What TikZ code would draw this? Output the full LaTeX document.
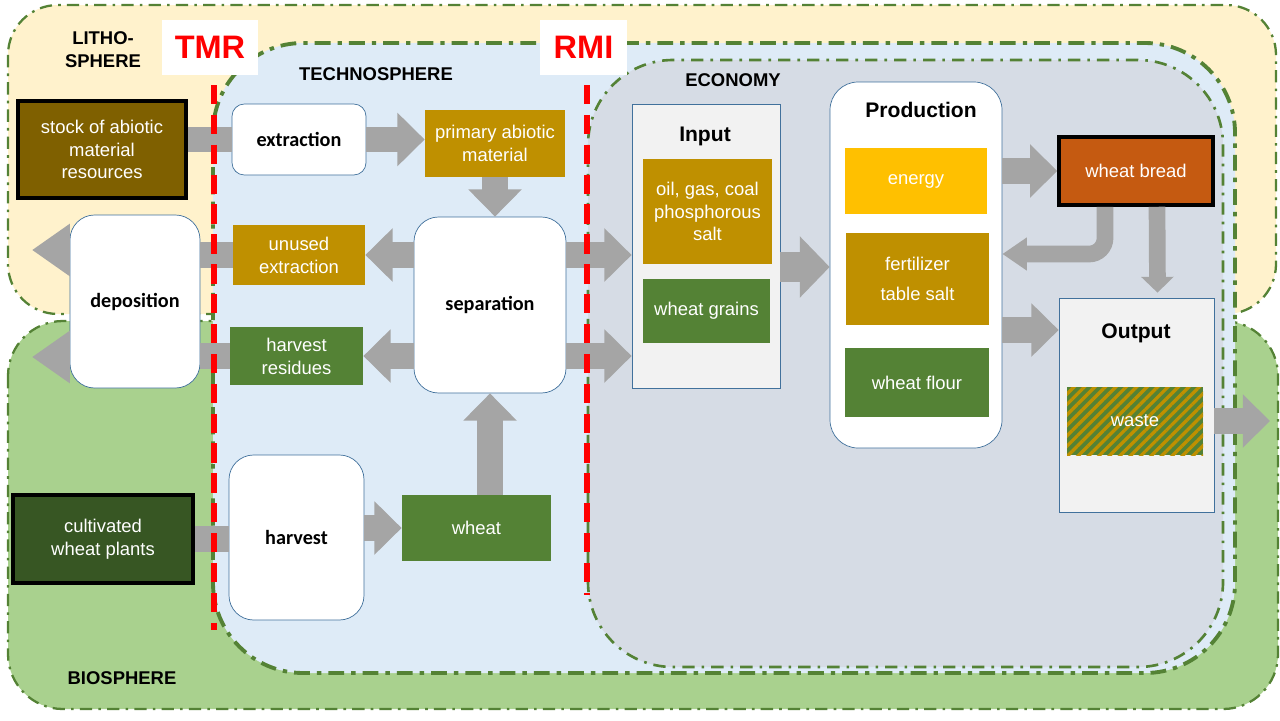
\documentclass[tikz,border=0pt]{standalone}
\usepackage{fontspec}
\setmainfont{Liberation Sans}
\newfontfamily\procfont{Carlito}
\usetikzlibrary{arrows.meta,calc,patterns.meta,positioning}

\definecolor{lithofill}{HTML}{FFF2CC}
\definecolor{biofill}{HTML}{A9D18E}
\definecolor{technofill}{HTML}{DEEBF7}
\definecolor{econfill}{HTML}{D6DCE5}
\definecolor{zonegreen}{HTML}{548235}
\definecolor{arrowgray}{HTML}{A5A5A5}
\definecolor{edgeblue}{HTML}{41719C}
\definecolor{panelgray}{HTML}{F2F2F2}
\definecolor{matgold}{HTML}{BF9000}
\definecolor{matgreen}{HTML}{548235}
\definecolor{matdark}{HTML}{375623}
\definecolor{matbrown}{HTML}{7F6000}
\definecolor{matbread}{HTML}{C55A11}
\definecolor{matenergy}{HTML}{FFC000}

\begin{document}
\begin{tikzpicture}[x=0.02cm, y=-0.02cm,
		sz/.style 2 args={minimum width=#1*0.02cm, minimum height=#2*0.02cm},
		matbox/.style={fill=#1, text=white, align=center, inner sep=1pt,
			font=\fontsize{10.5}{13}\selectfont},
		srcbox/.style={matbox=#1, draw=black, line width=2pt},
		procbox/.style={draw=edgeblue, fill=white, rounded corners=#1, align=center,
			font=\procfont\bfseries\fontsize{11.5}{14}\selectfont},
		panel/.style={draw=edgeblue, fill=panelgray},
		head/.style={font=\bfseries\fontsize{12}{14}\selectfont},
		sphere/.style={font=\bfseries\fontsize{10.5}{13}\selectfont, align=center},
		flag/.style={fill=white, text=red, inner sep=0pt, font=\bfseries\fontsize{18.5}{20}\selectfont},
		region/.style={draw=zonegreen, fill=#1, line width=1.3pt,
			dash pattern=on 7pt off 3.5pt on 1.5pt off 3.5pt},
		cutline/.style={red, line width=2.9pt, dash pattern=on 11pt off 6pt},
		bar/.style={draw=arrowgray, line width=14.5pt},
		flow/.style={draw=arrowgray, line width=14.5pt, -{Triangle[width=29.5pt,length=15.5pt]}},
		bigflow/.style={draw=arrowgray, line width=17pt, -{Triangle[width=34pt,length=17pt]}},
		outflow/.style={draw=arrowgray, line width=14.5pt, -{Triangle[width=28.5pt,length=21.6pt]}},
		smallflow/.style={draw=arrowgray, line width=9.5pt, -{Triangle[width=18pt,length=#1]}},
		smallflow/.default=9pt]

	\useasboundingbox (0,0) rectangle (1280,720);

	% spheres
	\draw[region=lithofill, rounded corners=1cm] (8,5) rectangle (1276,314);
	\draw[region=biofill, rounded corners=1.1cm] (8,321) rectangle (1278,709);
	\draw[draw=zonegreen, fill=technofill, line width=2.2pt, rounded corners=1.8cm,
		dash pattern=on 9pt off 4pt on 2.5pt off 4pt] (213,43) rectangle (1235,673);
	\draw[draw=zonegreen, fill=econfill, line width=1.5pt, rounded corners=1.7cm,
		dash pattern=on 7pt off 4pt on 1.5pt off 4pt] (588,60) rectangle (1223,667);

	\node[sphere] (litho) at (103,50) {LITHO-\\SPHERE};
	\node[sphere] (techno) at (376,74) {TECHNOSPHERE};
	\node[sphere] (econ) at (733,80) {ECONOMY};
	\node[sphere] (bio) at (122,678) {BIOSPHERE};

	% lithosphere side
	\node[srcbox=matbrown, sz={168}{97}] (stock) at (102,149.5) {stock of abiotic\\material\\resources};
	\node[procbox=7pt, sz={134}{71}] (extr) at (299,139.5) {extraction};
	\node[matbox=matgold, sz={140}{67}] (prim) at (495,143.5) {primary abiotic\\material};
	\node[procbox=14pt, sz={152}{176}] (sep) at (490,305) {separation};
	\node[matbox=matgold, sz={132}{60}] (unused) at (299,255) {unused\\extraction};
	\node[matbox=matgreen, sz={133}{58}] (resid) at (296.5,356) {harvest\\residues};
	\node[procbox=14pt, sz={130}{173}] (depo) at (135,301.5) {deposition};

	% biosphere side
	\node[srcbox=matdark, sz={180}{88}] (cult) at (103,539) {cultivated\\wheat plants};
	\node[procbox=14pt, sz={135}{165}] (harv) at (296.5,537.5) {harvest};
	\node[matbox=matgreen, sz={149}{66}] (wheat) at (476.5,528) {wheat};

	% economy
	\node[panel, sz={148}{284}] (input) at (706,246) {};
	\node[head] (inlbl) at (705,136) {Input};
	\node[matbox=matgold, sz={129}{105}] (oil) at (707.5,211.5) {oil, gas, coal\\phosphorous\\salt};
	\node[matbox=matgreen, sz={127}{64}] (grains) at (706.5,311) {wheat grains};

	\node[procbox=16pt, sz={172}{366}] (prod) at (916,265) {};
	\node[head] (prodlbl) at (921,110) {Production};
	\node[matbox=matenergy, sz={142}{66}] (energy) at (916,181) {energy};
	\node[matbox=matgold, sz={143}{92}, font=\fontsize{10.5}{17}\selectfont] (fert) at (917.5,279) {fertilizer\\table salt};
	\node[matbox=matgreen, sz={144}{69}] (flour) at (917,382.5) {wheat flour};

	\node[srcbox=matbread, sz={154}{68}] (bread) at (1136,171) {wheat bread};
	\node[panel, sz={155}{214}] (output) at (1136.5,405) {};
	\node[head] (outlbl) at (1136,333) {Output};
	\node[matbox=matgreen, sz={136}{68},
		postaction={pattern={Lines[angle=45,distance=4.2pt,line width=1.9pt]}, pattern color=matgold}]
		(waste) at (1135,421) {};
	\node[text=white, font=\fontsize{10.5}{13}\selectfont] (wastelbl) at (waste) {waste};

	\coordinate (lithoout) at (32,250);
	\coordinate (bioout) at (32,357);
	\coordinate (sink) at (1270,421);

	% flows
	\draw[bar] (stock.east |- extr.west) -- (extr.west);
	\draw[flow] (extr.east) -- (prim.west |- extr.east);
	\draw[flow] (prim.south) -- (prim.south |- sep.north);
	\draw[flow] (sep.west |- unused.east) -- (unused.east);
	\draw[flow] (sep.west |- resid.east) -- (resid.east);
	\draw[bar] (unused.west) -- (depo.east |- unused.west);
	\draw[bar] (resid.west) -- (depo.east |- resid.west);
	\draw[outflow] (depo.west |- lithoout) -- (lithoout);
	\draw[outflow] (depo.west |- bioout) -- (bioout);
	\draw[bar] (cult.east) -- (harv.west |- cult.east);
	\draw[flow] (harv.east |- wheat.west) -- (wheat.west);
	\draw[flow] (sep.south |- wheat.north) -- (sep.south);
	\draw[flow] (sep.east |- unused.east) -- (input.west |- unused.east);
	\draw[flow] (sep.east |- resid.east) -- (input.west |- resid.east);
	\draw[bigflow] ($(input.east)+(0,21)$) -- ($(prod.west)+(0,2)$);
	\draw[flow] (prod.east |- bread.west) -- (bread.west);
	\draw[flow] ($(prod.east)+(0,65)$) -- ($(output.west)+(0,-75)$);
	\draw[smallflow=14pt, rounded corners=9pt] ($(bread.south)+(-31,0)$) |- ($(prod.east)+(0,-11)$);
	\draw[smallflow] ($(bread.south)+(21,0)$) -- ($(output.north)+(21,-5)$);
	\draw[flow] (output.east |- waste.east) -- (sink);

	% TMR / RMI boundaries
	\draw[cutline] (214,85) -- (214,630);
	\draw[cutline] (587,85) -- (587,595);
	\node[flag, sz={96}{55}] (tmr) at (210,47.5) {TMR};
	\node[flag, sz={87}{55}] (rmi) at (583.5,47.5) {RMI};

\end{tikzpicture}
\end{document}
